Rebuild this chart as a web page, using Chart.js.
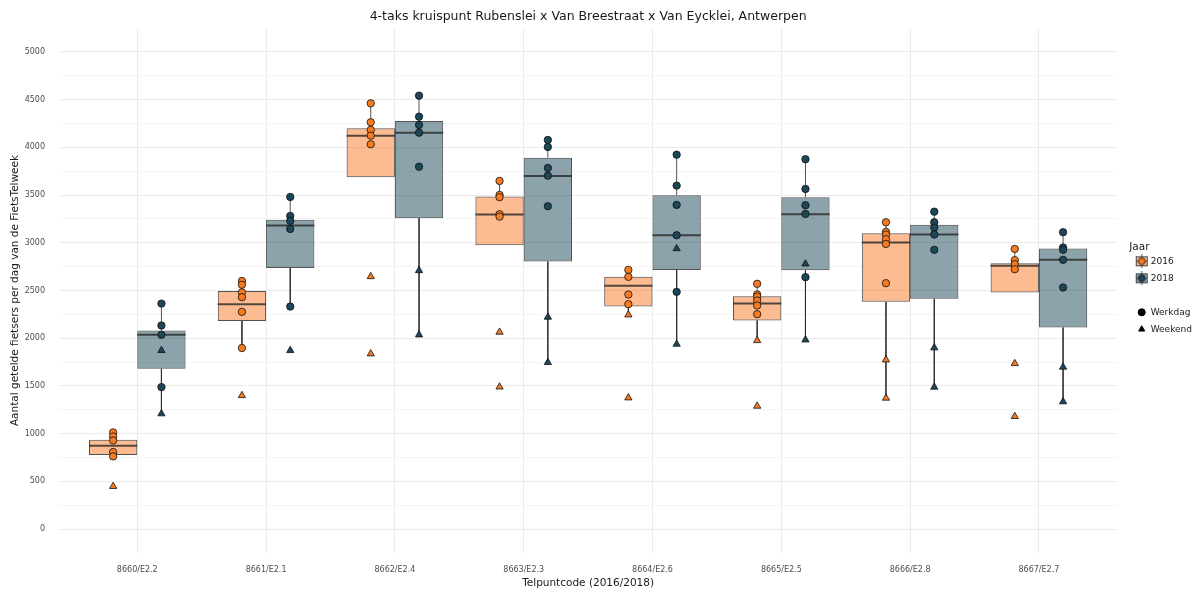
<!DOCTYPE html>
<html>
<head>
<meta charset="utf-8">
<script src="https://cdn.jsdelivr.net/npm/chart.js@4.4.1/dist/chart.umd.min.js"></script>
<style>
  body { margin: 0; background: #fff; }
  #wrap { width: 1197px; height: 595px; }
</style>
</head>
<body>
<div id="wrap"><canvas id="myChart"></canvas></div>
<script>
const telpunten = ['8660/E2.2', '8661/E2.1', '8662/E2.4', '8663/E2.3', '8664/E2.6', '8665/E2.5', '8666/E2.8', '8667/E2.7'];

// boxplot-kengetallen
const laag2016 = [762, 1897, 3687, 2975, 2245, 1976, 1373, 2479];
const q1_2016 = [776, 2180, 3687, 2975, 2332, 2186, 2381, 2479];
const mediaan2016 = [874, 2355, 4122, 3295, 2549, 2364, 3002, 2758];
const q3_2016 = [937, 2496, 4199, 3484, 2643, 2441, 3100, 2786];
const hoog2016 = [1013, 2610, 4461, 3648, 2716, 2570, 3215, 2936];

const laag2018 = [1209, 2330, 2036, 1746, 1938, 1983, 1488, 1335];
const q1_2018 = [1680, 2735, 3257, 2803, 2716, 2713, 2413, 2112];
const mediaan2018 = [2036, 3180, 4153, 3700, 3079, 3299, 3086, 2821];
const q3_2018 = [2081, 3240, 4276, 3892, 3498, 3477, 3190, 2939];
const hoog2018 = [2363, 3480, 4541, 4077, 3923, 3875, 3326, 3111];

// losse dagwaarden
const werkdag2016 = [
  [1013, 971, 929, 808, 762],
  [2600, 2560, 2480, 2430, 2276, 1897],
  [4461, 4262, 4182, 4122, 4032],
  [3648, 3501, 3477, 3299, 3274],
  [2716, 2643, 2458, 2357],
  [2570, 2458, 2437, 2395, 2343, 2252],
  [3215, 3114, 3086, 3037, 2988, 2577],
  [2936, 2818, 2776, 2723]
];
const weekend2016 = [[448], [1400], [2646, 1837], [2064, 1490], [2245, 1376], [1976, 1289], [1774, 1373], [1735, 1181]];

const werkdag2018 = [
  [2363, 2133, 2036, 1488],
  [3480, 3281, 3229, 3145, 2332],
  [4541, 4321, 4234, 4153, 3797],
  [4077, 4004, 3784, 3703, 3383],
  [3923, 3599, 3397, 3079, 2486],
  [3875, 3564, 3393, 3302, 2640],
  [3326, 3215, 3159, 3086, 2926],
  [3111, 2950, 2926, 2821, 2531]
];
const weekend2018 = [[1872, 1209], [1872], [2709, 2036], [2221, 1746], [2939, 1938], [2779, 1983], [1900, 1488], [1698, 1335]];

const yTicks = [0, 250, 500, 750, 1000, 1250, 1500, 1750, 2000, 2250, 2500, 2750, 3000, 3250, 3500, 3750, 4000, 4250, 4500, 4750, 5000];

const COLORS = {
  orange: '#F57A22',
  orange_box: 'rgba(250,120,36,0.5)',
  teal: '#1B4757',
  teal_box: 'rgba(27,71,87,0.5)',
  line: 'rgba(40,40,40,0.8)',
  grid: '#EBEBEB',
  grid_minor: '#F4F4F4'
};

const FONT = 'DejaVu Sans';
Chart.defaults.font.family = FONT;

const HALF = 0.1875; // halve boxbreedte (dodge 0.75 / 2 / 2)

const boxData = (q1, q3) => q1.map((v, i) => ({ x: i + 1, y: [v, q3[i]] }));

const whiskerData = (lo, q1, q3, hi, shift) => {
  let out = [];
  lo.forEach((v, i) => {
    const x = i + 1 + shift;
    out.push({ x, y: q3[i] }, { x, y: hi[i] }, { x, y: null });
    out.push({ x, y: q1[i] }, { x, y: v }, { x, y: null });
  });
  return out;
};

const medianData = (med, shift) => {
  let out = [];
  med.forEach((v, i) => {
    const x = i + 1 + shift;
    out.push({ x: x - HALF, y: v }, { x: x + HALF, y: v }, { x: x + HALF, y: null });
  });
  return out;
};

const pointData = (rows, shift) => rows.flatMap((vals, i) => vals.map((v) => ({ x: i + 1 + shift, y: v })));

const makeKey = (fill, dot) => {
  const c = document.createElement('canvas');
  c.width = 14; c.height = 14;
  const g = c.getContext('2d');
  g.strokeStyle = '#444';
  g.beginPath(); g.moveTo(7, 0); g.lineTo(7, 14); g.stroke();
  g.fillStyle = '#fff'; g.fillRect(1, 2, 12, 10);
  g.fillStyle = fill; g.fillRect(1, 2, 12, 10);
  g.strokeRect(1.5, 2.5, 11, 9);
  g.beginPath(); g.moveTo(1.5, 7); g.lineTo(12.5, 7); g.stroke();
  g.beginPath(); g.arc(7, 7, 3.4, 0, Math.PI * 2);
  g.fillStyle = dot; g.fill(); g.strokeStyle = '#111'; g.lineWidth = 0.8; g.stroke();
  return c;
};

const legendItems = [
  { text: '2016', pointStyle: makeKey(COLORS.orange_box, COLORS.orange), fillStyle: COLORS.orange, strokeStyle: '#111', lineWidth: 0, hidden: false },
  { text: '2018', pointStyle: makeKey(COLORS.teal_box, COLORS.teal), fillStyle: COLORS.teal, strokeStyle: '#111', lineWidth: 0, hidden: false },
  { text: '', pointStyle: 'circle', fillStyle: 'rgba(0,0,0,0)', strokeStyle: 'rgba(0,0,0,0)', lineWidth: 0, hidden: false },
  { text: 'Werkdag', pointStyle: 'circle', fillStyle: '#000', strokeStyle: '#000', lineWidth: 1, hidden: false },
  { text: 'Weekend', pointStyle: 'triangle', fillStyle: '#000', strokeStyle: '#000', lineWidth: 1, hidden: false }
];

// legenda iets naar rechts schuiven, zoals in ggplot
const legendShift = {
  id: 'legendShift',
  afterLayout: (chart) => {
    chart.legend.left += 13;
    chart.legend.right += 13;
  }
};

const pointSet = (label, rows, shift, color, style, order) => ({
  type: 'scatter',
  label,
  data: pointData(rows, shift),
  pointStyle: style,
  pointRadius: style === 'triangle' ? 4.2 : 3.7,
  pointBackgroundColor: color,
  pointBorderColor: '#111',
  pointBorderWidth: 0.8,
  order
});

const lineSet = (label, data, width, order) => ({
  type: 'line',
  label,
  data,
  borderColor: COLORS.line,
  borderWidth: width,
  pointRadius: 0,
  spanGaps: false,
  order
});

const ctx = document.getElementById('myChart');

let myChart = new Chart(ctx, {
  type: 'bar',
  data: {
    datasets: [
      lineSet('snor 2016', whiskerData(laag2016, q1_2016, q3_2016, hoog2016, -HALF), 1, 6),
      lineSet('snor 2018', whiskerData(laag2018, q1_2018, q3_2018, hoog2018, HALF), 1, 6),
      { label: '2016', data: boxData(q1_2016, q3_2016), backgroundColor: COLORS.orange_box,
        borderColor: COLORS.line, borderWidth: 1, borderSkipped: false, order: 5 },
      { label: '2018', data: boxData(q1_2018, q3_2018), backgroundColor: COLORS.teal_box,
        borderColor: COLORS.line, borderWidth: 1, borderSkipped: false, order: 5 },
      lineSet('mediaan 2016', medianData(mediaan2016, -HALF), 2, 4),
      lineSet('mediaan 2018', medianData(mediaan2018, HALF), 2, 4),
      pointSet('weekend 2016', weekend2016, -HALF, COLORS.orange, 'triangle', 3),
      pointSet('weekend 2018', weekend2018, HALF, COLORS.teal, 'triangle', 3),
      pointSet('werkdag 2016', werkdag2016, -HALF, COLORS.orange, 'circle', 2),
      pointSet('werkdag 2018', werkdag2018, HALF, COLORS.teal, 'circle', 2)
    ]
  },
  plugins: [legendShift],
  options: {
    responsive: true,
    maintainAspectRatio: false,
    animation: false,
    layout: { padding: { right: 8 } },
    datasets: { bar: { categoryPercentage: 0.75, barPercentage: 1 } },
    plugins: {
      title: {
        display: true,
        fullSize: false,
        text: '4-taks kruispunt Rubenslei x Van Breestraat x Van Eycklei, Antwerpen',
        color: '#1a1a1a',
        font: { size: 12.5, weight: 'normal' },
        padding: { top: 9, bottom: 4 }
      },
      legend: {
        position: 'right',
        align: 'center',
        fullSize: false,
        title: { display: true, position: 'start', text: 'Jaar', color: '#1a1a1a', font: { size: 10.5 }, padding: { top: 3, bottom: -6 } },
        labels: {
          usePointStyle: true,
          boxHeight: 5,
          padding: 8,
          color: '#1a1a1a',
          font: { size: 9 },
          generateLabels: () => legendItems
        }
      },
      tooltip: { enabled: false }
    },
    scales: {
      x: {
        type: 'linear',
        min: 0.4,
        max: 8.6,
        offset: false,
        afterBuildTicks: (s) => { s.ticks = telpunten.map((t, i) => ({ value: i + 1 })); },
        afterFit: (s) => { s.height = 42; },
        ticks: {
          autoSkip: false,
          maxRotation: 0,
          padding: 12,
          color: '#4D4D4D',
          font: { size: 8 },
          callback: (v) => telpunten[v - 1]
        },
        grid: { color: COLORS.grid, drawTicks: false, offset: false },
        border: { display: false },
        title: {
          display: true,
          text: 'Telpuntcode (2016/2018)',
          color: '#1a1a1a',
          font: { size: 10.5 },
          padding: { top: 0, bottom: 5 }
        }
      },
      y: {
        min: -250,
        max: 5250,
        afterBuildTicks: (s) => { s.ticks = yTicks.map((v) => ({ value: v })); },
        afterFit: (s) => { s.width = 60; },
        ticks: {
          autoSkip: false,
          padding: 15,
          color: '#4D4D4D',
          font: { size: 8 },
          callback: (v) => (v % 500 === 0 ? v : '')
        },
        grid: {
          drawTicks: false,
          color: (c) => (c.tick && c.tick.value % 500 === 0 ? COLORS.grid : COLORS.grid_minor)
        },
        border: { display: false },
        title: {
          display: true,
          text: 'Aantal getelde fietsers per dag van de FietsTelweek',
          color: '#1a1a1a',
          font: { size: 10.5 },
          padding: { top: 9, bottom: 0 }
        }
      }
    }
  }
});
</script>
</body>
</html>
